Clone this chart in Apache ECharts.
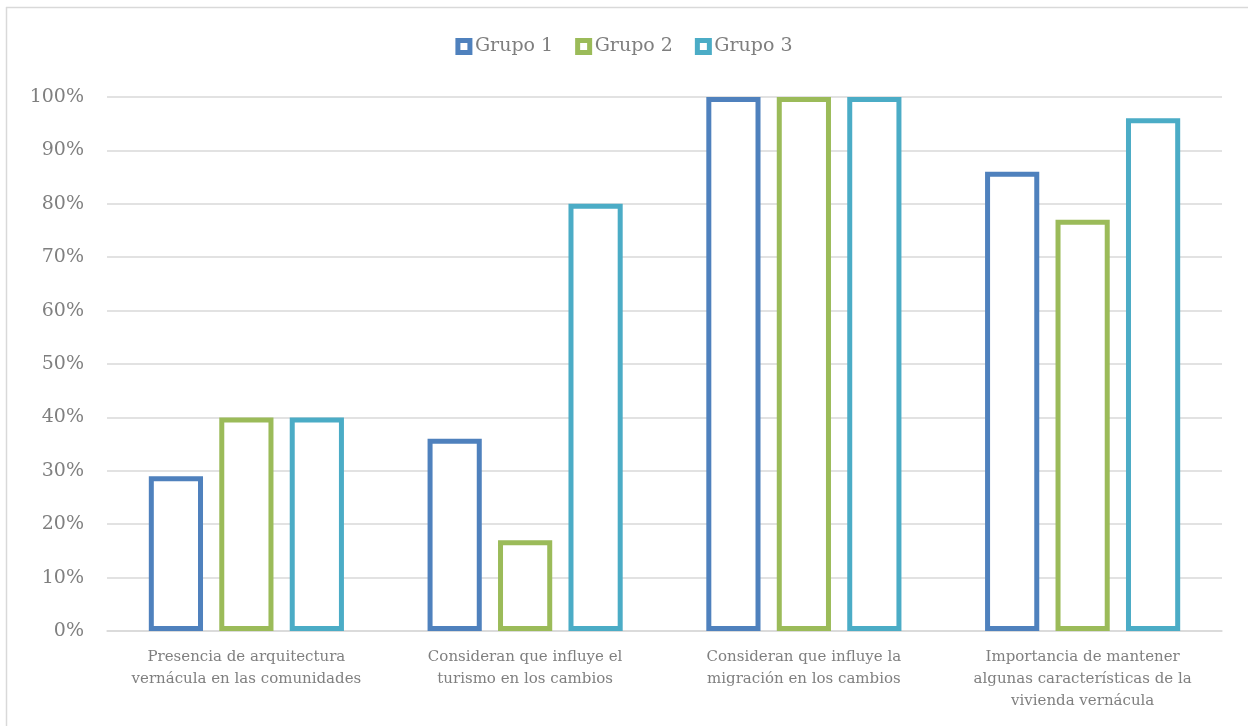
<!DOCTYPE html>
<html>
<head>
<meta charset="utf-8">
<script src="https://cdn.jsdelivr.net/npm/echarts@6/dist/echarts.min.js"></script>
<style>
  html, body { margin: 0; padding: 0; background: #fff; }
  #chart { width: 1248px; height: 726px; }
</style>
</head>
<body>
<div id="chart"></div>
<script>
var categories = [
    'Presencia de arquitectura\nvernácula en las comunidades',
    'Consideran que influye el\nturismo en los cambios',
    'Consideran que influye la\nmigración en los cambios',
    'Importancia de mantener\nalgunas características de la\nvivienda vernácula'
];
var seriesNames = ['Grupo 1', 'Grupo 2', 'Grupo 3'];
var grupo1 = [29, 36, 100, 86];
var grupo2 = [40, 17, 100, 77];
var grupo3 = [40, 80, 100, 96];
var colors = ['#4F81BD', '#9BBB59', '#4BACC6'];

var fontFam = '"DejaVu Serif", serif';
var myChart = echarts.init(document.getElementById('chart'));

function barSeries(name, data, color) {
    return {
        name: name,
        type: 'bar',
        data: data,
        barGap: '30%',
        barCategoryGap: '30%',
        itemStyle: {
            color: '#ffffff',
            borderColor: color,
            borderWidth: 5
        }
    };
}

var option = {
    backgroundColor: '#ffffff',
    animation: false,
    textStyle: { fontFamily: fontFam },
    legend: {
        top: 32,
        left: 'center',
        itemWidth: 12,
        itemHeight: 12,
        itemGap: 22,
        icon: 'rect',
        itemStyle: { borderWidth: 5 },
        textStyle: { color: '#7f7f7f', fontSize: 19, fontFamily: fontFam, padding: [0, 0, 0, 0] },
        data: seriesNames
    },
    grid: { left: 107, right: 26, top: 97, bottom: 95 },
    xAxis: {
        type: 'category',
        data: categories,
        axisTick: { show: false },
        axisLine: { lineStyle: { color: '#d9d9d9', width: 1.5 } },
        axisLabel: {
            color: '#7f7f7f',
            fontSize: 15,
            lineHeight: 22,
            margin: 15,
            interval: 0,
            fontFamily: fontFam
        }
    },
    yAxis: {
        type: 'value',
        min: 0,
        max: 100,
        interval: 10,
        axisLine: { show: false },
        axisTick: { show: false },
        splitLine: { lineStyle: { color: '#d9d9d9', width: 1.5 } },
        axisLabel: {
            color: '#7f7f7f',
            fontSize: 19,
            margin: 23,
            formatter: '{value}%',
            fontFamily: fontFam
        }
    },
    graphic: [
        { type: 'line', shape: { x1: 6.5, y1: 7, x2: 6.5, y2: 726 }, style: { stroke: '#d9d9d9', lineWidth: 1.5 } },
        { type: 'line', shape: { x1: 6, y1: 7.5, x2: 1248, y2: 7.5 }, style: { stroke: '#d9d9d9', lineWidth: 1.5 } }
    ],
    series: [
        barSeries(seriesNames[0], grupo1, colors[0]),
        barSeries(seriesNames[1], grupo2, colors[1]),
        barSeries(seriesNames[2], grupo3, colors[2])
    ]
};
myChart.setOption(option);
</script>
</body>
</html>
